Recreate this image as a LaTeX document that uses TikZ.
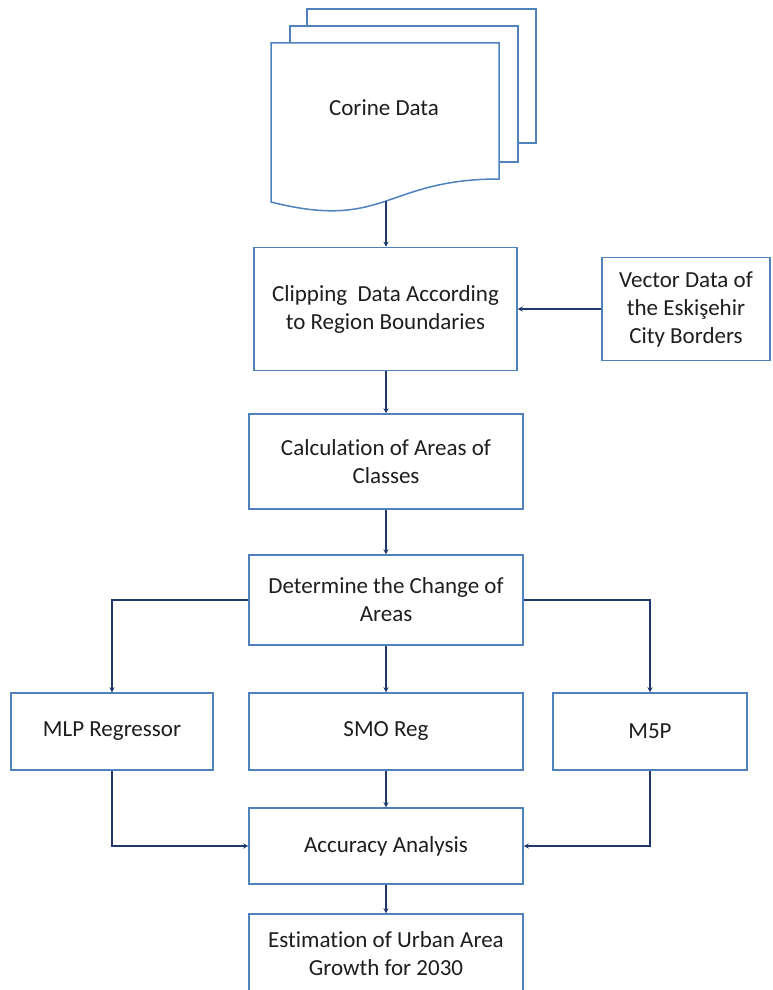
\documentclass[tikz,border=0pt]{standalone}
\usepackage{fontspec}
\setmainfont{Carlito}[Ligatures={NoCommon}]
\usetikzlibrary{arrows.meta}
\definecolor{boxline}{RGB}{79,129,189}
\definecolor{conn}{RGB}{31,56,110}
\definecolor{txt}{RGB}{30,30,30}
\tikzset{
  box/.style={draw=boxline, line width=1.5pt, fill=white, rectangle, align=center,
    text=txt, font=\fontsize{23}{28}\selectfont, inner sep=0pt},
  doc/.style={draw=boxline, line width=1.5pt, fill=white},
  arr/.style={draw=conn, line width=1.6pt, -{Stealth[length=5pt,width=5pt]}}
}
\begin{document}
\begin{tikzpicture}[x=1pt,y=-1pt]
\useasboundingbox (0,0) rectangle (772,990);
\clip (0,0) rectangle (772,990);
% multidocument
\draw[doc] (307,9) rectangle (536,143);
\draw[doc] (290,26) rectangle (518,162);
\draw[doc] (271,43) -- (499,43) -- (499,179) .. controls (385,179) and (385,231) .. (271,202) -- cycle;
\node[text=txt, font=\fontsize{23}{28}\selectfont] (corine) at (384,108) {Corine Data};
\coordinate (docbot) at (386,201);
% boxes
\node[box, minimum width=263pt, minimum height=123pt] (clip) at (385.5,309) {Clipping\ \ Data According\\to Region Boundaries};
\node[box, minimum width=168pt, minimum height=103pt] (vector) at (686,309) {Vector Data of\\the Eskişehir\\City Borders};
\node[box, minimum width=274pt, minimum height=95pt] (calc) at (386,461.5) {Calculation of Areas of\\Classes};
\node[box, minimum width=274pt, minimum height=90pt] (det) at (386,600) {Determine the Change of\\Areas};
\node[box, minimum width=202pt, minimum height=77pt] (mlp) at (112,731.5) {MLP Regressor};
\node[box, minimum width=274pt, minimum height=77pt] (smo) at (386,731.5) {SMO Reg};
\node[box, minimum width=194pt, minimum height=77pt] (m5p) at (650,731.5) {M5P};
\node[box, minimum width=274pt, minimum height=76pt] (acc) at (386,846) {Accuracy Analysis};
\node[box, minimum width=274pt, minimum height=80pt] (est) at (386,954) {Estimation of Urban Area\\Growth for 2030};
% connectors
\draw[arr] (docbot) -- (docbot |- clip.north);
\draw[arr] (vector.west) -- (clip.east);
\draw[arr] (clip.south -| calc.north) -- (calc.north);
\draw[arr] (calc.south) -- (det.north);
\draw[arr] (det.west) -| (mlp.north);
\draw[arr] (det.east) -| (m5p.north);
\draw[arr] (det.south) -- (smo.north);
\draw[arr] (mlp.south) |- (acc.west);
\draw[arr] (m5p.south) |- (acc.east);
\draw[arr] (smo.south) -- (acc.north);
\draw[arr] (acc.south) -- (est.north);
\end{tikzpicture}
\end{document}
